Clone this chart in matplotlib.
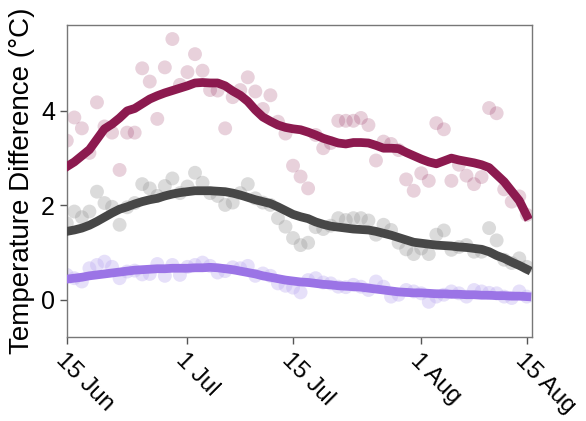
import numpy as np
import matplotlib
matplotlib.use("Agg")
import matplotlib.pyplot as plt

plt.rcParams['font.family'] = ['Liberation Sans', 'DejaVu Sans']

days = np.arange(62)

pink_pts = [3.37, 3.86, 3.63, 3.11, 4.18, 3.67, 3.54, 2.75, 3.54, 3.54,
            4.90, 4.62, 3.83, 4.92, 5.52, 4.55, 4.82, 5.20, 4.85, 4.44,
            4.43, 3.63, 4.29, 4.44, 4.71, 4.41, 4.04, 4.33, 3.77, 3.52,
            2.84, 2.61, 2.36, 3.49, 3.21, 3.32, 3.79, 3.79, 3.79, 3.85,
            3.70, 2.95, 3.35, 3.30, 3.17, 2.55, 2.31, 2.68, 2.52, 3.74,
            3.61, 2.52, 2.86, 2.63, 2.45, 2.60, 4.06, 3.95, 2.34, 2.08,
            2.19, 1.80]
pink_line = [2.82, 2.92, 3.05, 3.18, 3.40, 3.62, 3.72, 3.85, 4.00, 4.05,
             4.15, 4.25, 4.32, 4.38, 4.43, 4.48, 4.53, 4.59, 4.60, 4.59,
             4.59, 4.53, 4.42, 4.33, 4.20, 4.02, 3.87, 3.78, 3.70, 3.65,
             3.62, 3.60, 3.55, 3.49, 3.42, 3.37, 3.32, 3.30, 3.33, 3.33,
             3.32, 3.27, 3.21, 3.21, 3.20, 3.12, 3.05, 2.98, 2.92, 2.88,
             2.94, 3.00, 2.96, 2.93, 2.90, 2.86, 2.80, 2.65, 2.50, 2.30,
             2.10, 1.78]

gray_pts = [1.62, 1.87, 1.75, 1.87, 2.29, 2.05, 1.97, 1.59, 1.96, 2.05,
            2.45, 2.36, 2.20, 2.41, 2.57, 2.26, 2.40, 2.69, 2.48, 2.26,
            2.20, 2.01, 2.06, 2.26, 2.45, 2.15, 2.06, 2.01, 1.73, 1.55,
            1.31, 1.16, 1.21, 1.54, 1.50, 1.57, 1.73, 1.69, 1.73, 1.73,
            1.68, 1.38, 1.59, 1.48, 1.21, 1.07, 0.97, 1.09, 0.97, 1.38,
            1.47, 1.06, 1.12, 1.16, 1.02, 1.02, 1.52, 1.26, 0.85, 0.78,
            0.88, 0.70]
gray_line = [1.45, 1.48, 1.52, 1.58, 1.66, 1.75, 1.84, 1.92, 1.97, 2.03,
             2.08, 2.12, 2.15, 2.20, 2.24, 2.27, 2.29, 2.31, 2.31, 2.31,
             2.30, 2.29, 2.26, 2.22, 2.17, 2.12, 2.08, 2.04, 1.97, 1.89,
             1.81, 1.76, 1.72, 1.65, 1.60, 1.56, 1.54, 1.52, 1.50, 1.49,
             1.48, 1.45, 1.41, 1.37, 1.32, 1.27, 1.22, 1.20, 1.18, 1.16,
             1.15, 1.14, 1.12, 1.11, 1.09, 1.07, 1.02, 0.94, 0.88, 0.80,
             0.73, 0.65]

purple_pts = [0.53, 0.46, 0.39, 0.67, 0.74, 0.81, 0.70, 0.46, 0.60, 0.62,
              0.54, 0.55, 0.76, 0.51, 0.74, 0.53, 0.70, 0.74, 0.79, 0.72,
              0.58, 0.61, 0.69, 0.67, 0.72, 0.51, 0.56, 0.51, 0.35, 0.30,
              0.26, 0.16, 0.42, 0.46, 0.37, 0.35, 0.28, 0.27, 0.32, 0.28,
              0.21, 0.39, 0.28, 0.07, 0.11, 0.21, 0.18, 0.14, -0.04, 0.07,
              0.11, 0.18, 0.14, 0.07, 0.21, 0.18, 0.15, 0.14, 0.07, 0.04,
              0.18, 0.07]
purple_line = [0.44, 0.46, 0.48, 0.51, 0.53, 0.55, 0.57, 0.59, 0.61, 0.63,
               0.64, 0.65, 0.66, 0.66, 0.67, 0.67, 0.67, 0.68, 0.68, 0.69,
               0.68, 0.66, 0.64, 0.61, 0.58, 0.55, 0.51, 0.48, 0.45, 0.42,
               0.40, 0.38, 0.37, 0.35, 0.33, 0.32, 0.30, 0.29, 0.28, 0.27,
               0.25, 0.23, 0.21, 0.19, 0.17, 0.16, 0.15, 0.15, 0.14, 0.13,
               0.13, 0.12, 0.12, 0.11, 0.11, 0.10, 0.10, 0.09, 0.09, 0.08,
               0.08, 0.07]

tick_days = [0, 16, 30, 47, 61]
tick_labels = ['15 Jun', '1 Jul', '15 Jul', '1 Aug', '15 Aug']
y_ticks = [0, 2, 4]

pink = '#8c1a4f'
gray = '#474747'
purple = '#9b74e6'

fig = plt.figure(figsize=(5.86, 4.21), dpi=100)
ax = fig.add_axes([0.114, 0.2, 0.794, 0.741])

ax.scatter(days, pink_pts, s=100, color=pink, alpha=0.2, edgecolors='none', zorder=2)
ax.scatter(days, gray_pts, s=100, color='#9a9a9a', alpha=0.35, edgecolors='none', zorder=2)
ax.scatter(days, purple_pts, s=100, color='#c2b2f2', alpha=0.4, edgecolors='none', zorder=2)

ax.plot(days, pink_line, color=pink, lw=6.3, zorder=3)
ax.plot(days, gray_line, color=gray, lw=6.3, zorder=3)
ax.plot(days, purple_line, color=purple, lw=6.3, zorder=3)

ax.set_xlim(0, 61.7)
ax.set_ylim(-0.78, 5.82)
ax.set_xticks(tick_days)
ax.set_xticklabels(tick_labels, rotation=-45, ha='left', va='top', rotation_mode='anchor')
ax.set_yticks(y_ticks)
ax.tick_params(axis='both', labelsize=18, length=5, color='#555555', width=1)
ax.tick_params(axis='x', labelsize=17.3, pad=4)
for sp in ax.spines.values():
    sp.set_color('#777777')
    sp.set_linewidth(1)
ax.set_ylabel('Temperature Difference (°C)', fontsize=20, labelpad=4)

fig.savefig('out.png', dpi=100)
